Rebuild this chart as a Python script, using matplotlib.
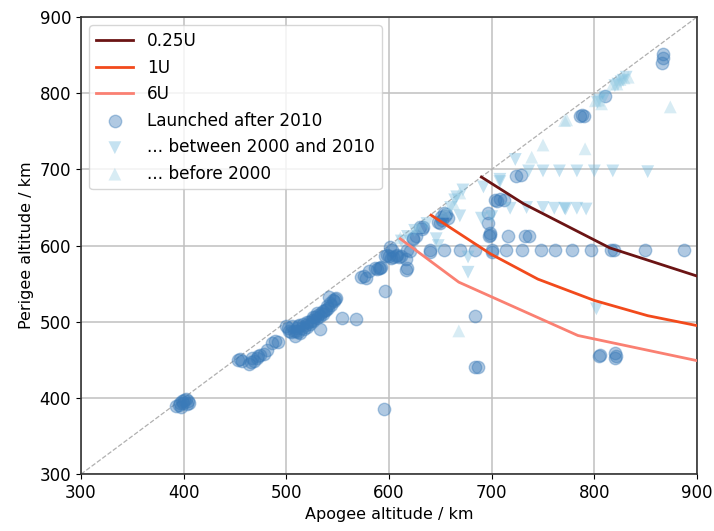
import matplotlib
matplotlib.use("Agg")
import matplotlib.pyplot as plt

# orbit lifetime limit curves (apogee, perigee) in km
apo_025u = [690, 731, 815, 900]
peri_025u = [690, 655, 597, 560]
apo_1u = [641, 699, 745, 800, 852, 900]
peri_1u = [640, 589, 556, 528, 508, 495]
apo_6u = [611, 668, 784, 900]
peri_6u = [609, 552, 482, 449]

# launched after 2010
new_pts = [
    (397, 388), (393, 389), (399, 393), (404, 396), (398, 396), (402, 399), (405, 394), (395, 391),
    (400, 397), (403, 392), (396, 393),
    (453, 450), (457, 448), (464, 444), (466, 447), (471, 453), (474, 457), (469, 449), (478, 458),
    (455, 451), (467, 452), (472, 455),
    (481, 463), (489, 475), (492, 473), (486, 472),
    (500, 495), (503, 488), (507, 488), (510, 492), (513, 485), (517, 490), (520, 493), (523, 497),
    (526, 501), (530, 505), (533, 507), (536, 510), (539, 515), (541, 518), (544, 522), (546, 527),
    (548, 531), (542, 533), (545, 529), (536, 514), (526, 506), (516, 497), (511, 494), (505, 486),
    (508, 481), (533, 491), (520, 500), (530, 512),
    (502, 492), (506, 494), (509, 488), (512, 496), (515, 492), (519, 496), (522, 500), (525, 503),
    (528, 506), (531, 509), (534, 512), (538, 516), (540, 521), (543, 525), (547, 530), (511, 486),
    (554, 505), (568, 504), (596, 540), (595, 385),
    (573, 559), (578, 557), (581, 566), (588, 569), (592, 572), (586, 571), (596, 586), (600, 586),
    (604, 585), (608, 587), (612, 586), (617, 582), (617, 568), (601, 598), (607, 586), (591, 571),
    (618, 571), (576, 560), (590, 570), (598, 588), (602, 584), (610, 585),
    (623, 608), (630, 624), (633, 625), (650, 629), (652, 633), (654, 643), (657, 636), (656, 641),
    (640, 591), (623, 610), (626, 612), (632, 622), (651, 637), (655, 639), (648, 631),
    (603, 594), (618, 594), (620, 593), (640, 594), (654, 594), (669, 594), (684, 594), (700, 594),
    (700, 592), (714, 594), (730, 594), (748, 594), (762, 594), (778, 594), (797, 594), (816, 594),
    (819, 594), (849, 594), (887, 594),
    (697, 612), (698, 617), (716, 613), (732, 613), (736, 613), (698, 614),
    (696, 630), (696, 643), (703, 660), (708, 661), (712, 660), (705, 659),
    (724, 691), (729, 692),
    (684, 441), (687, 441), (684, 508), (805, 455), (820, 453), (820, 459), (806, 457), (821, 455),
    (786, 770), (790, 770), (788, 772), (810, 796), (867, 851), (867, 846), (866, 840),
]

# launched between 2000 and 2010
mid_pts = [
    (708, 687), (723, 713), (736, 698), (750, 698), (766, 698), (783, 698), (800, 698), (818, 698),
    (852, 697),
    (718, 649), (734, 650), (750, 650), (761, 649), (771, 649), (783, 649), (792, 648), (772, 648),
    (692, 677), (708, 684), (666, 664), (672, 673), (669, 639), (690, 636), (700, 638), (646, 609),
    (677, 585), (677, 565), (637, 629), (802, 517), (805, 791), (810, 795), (828, 817), (831, 821),
    (823, 812), (612, 606), (618, 612), (660, 650), (625, 620), (648, 600), (803, 788), (826, 815),
    (820, 810), (664, 660),
]

# launched before 2000
old_pts = [
    (669, 669), (739, 716), (750, 732), (791, 727), (874, 782), (773, 765), (771, 764), (804, 791),
    (807, 786), (822, 812), (825, 818), (829, 820), (833, 821), (668, 488), (611, 610), (663, 655),
    (655, 645), (628, 625), (818, 812), (801, 790),
]

fig = plt.figure(figsize=(7.14, 5.31), dpi=100)
ax = fig.add_axes([0.1134, 0.107, 0.8628, 0.861])

ax.plot([300, 900], [300, 900], ls="--", color="#b0b0b0", lw=0.9, zorder=1)

ax.plot(apo_025u, peri_025u, color="#6b1414", lw=2, label="0.25U", zorder=4)
ax.plot(apo_1u, peri_1u, color="#f24a1c", lw=2, label="1U", zorder=4)
ax.plot(apo_6u, peri_6u, color="#fa8072", lw=2, label="6U", zorder=4)

ax.scatter([p[0] for p in new_pts], [p[1] for p in new_pts], s=80, marker="o",
           color="#3a7ab8", alpha=0.4, label="Launched after 2010", zorder=3)
ax.scatter([p[0] for p in mid_pts], [p[1] for p in mid_pts], s=85, marker="v",
           color="#6fb8dc", alpha=0.4, edgecolors="none", label="... between 2000 and 2010", zorder=3)
ax.scatter([p[0] for p in old_pts], [p[1] for p in old_pts], s=85, marker="^",
           color="#9fd0e4", alpha=0.4, edgecolors="none", label="... before 2000", zorder=3)

ax.set_xlim(300, 900)
ax.set_ylim(300, 900)
ax.set_xticks(range(300, 901, 100))
ax.set_yticks(range(300, 901, 100))
ax.tick_params(labelsize=12)
ax.grid(True, color="#c0c0c0", lw=1.1, zorder=0)
ax.set_axisbelow(True)
for sp in ax.spines.values():
    sp.set_linewidth(1.2)
    sp.set_color("#333333")

ax.set_xlabel("Apogee altitude / km", fontsize=11.5)
ax.set_ylabel("Perigee altitude / km", fontsize=11.5)

ax.legend(loc="upper left", fontsize=12.2, framealpha=0.8, handlelength=2.2)

fig.savefig("out.png", dpi=100)
